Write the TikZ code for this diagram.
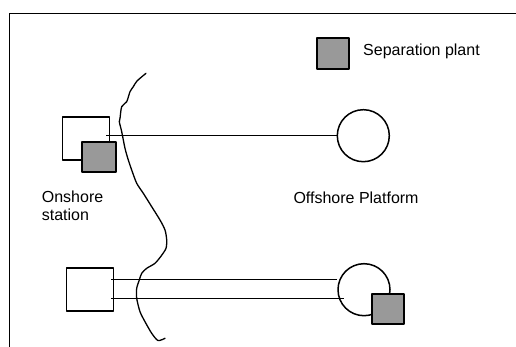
\documentclass[tikz,border=0pt]{standalone}
\usepackage{fontspec}
\setmainfont{Liberation Sans}
\definecolor{plantgray}{RGB}{153,153,153}
\begin{document}
\begin{tikzpicture}[x=1pt,y=-1pt,
  line join=round,
  station/.style={draw,line width=1.5pt,fill=white,minimum width=47pt,minimum height=43pt,inner sep=0pt},
  plant/.style={draw,line width=2pt,fill=plantgray,inner sep=0pt},
  platform/.style={draw,circle,line width=1.5pt,fill=white,minimum size=52pt,inner sep=0pt},
  pipe/.style={line width=1.4pt},
  label/.style={font=\fontsize{16}{18.5}\selectfont,inner sep=0pt,align=left}]
\useasboundingbox (0,0) rectangle (516,347);

% border of the sheet
\draw[line width=1.3pt] (9.8,347) -- (9.8,13.5) -- (516,13.5);

% legend
\node[plant,minimum width=32pt,minimum height=31pt] (legend) at (332.8,53.7) {};
\node[label,anchor=base west] (legendtext) at (363,56) {Separation plant};

% coastline
\draw[line width=1.3pt,line cap=round] plot[smooth,tension=0.45] coordinates {
  (146,73.3) (137,81) (133.3,86.7) (130,91.7) (126.7,101.7) (121.7,106.7)
  (120,118.3) (119.3,121.7) (121.7,131.7) (125,148.3) (128.3,160)
  (131.7,170) (136.7,183.3) (143.3,193.3) (151.7,206.7) (160,220)
  (165,230) (166.7,240) (166,248.3) (161.5,255.5) (155,263.3)
  (146.7,268.3) (141.7,273.3) (139.3,280) (136.7,288.3) (136.7,298.3)
  (140,311.7) (145,321.7) (151.7,333.3) (158,340.5) (165,338.3)};

% upper scheme: separation on shore
\node[station] (upshore) at (86.2,138.7) {};
\node[plant,minimum width=34pt,minimum height=30pt] (upplant) at (99.3,157.3) {};
\node[platform] (upplat) at (363.3,135.7) {};
\draw[pipe] ([xshift=-4pt,yshift=3pt]upshore.east) -- (upplat.west);
\node[label,anchor=base west] (onshore) at (41.7,220.7) {Onshore\\station};
\node[label,anchor=base west] (offshore) at (293.3,204) {Offshore Platform};

% lower scheme: separation offshore
\node[station] (lowshore) at (90,289.7) {};
\node[platform] (lowplat) at (364,289.7) {};
\node[plant,minimum width=32pt,minimum height=30pt] (lowplant) at (388,308.5) {};
\draw[pipe] ([xshift=-3pt,yshift=10.4pt]lowshore.east) -- ([yshift=10.4pt]lowplat.west);
\draw[pipe] ([xshift=-3pt,yshift=-8.6pt]lowshore.east) -- ([xshift=6.6pt,yshift=-8.6pt]lowplat.west);
\end{tikzpicture}
\end{document}
